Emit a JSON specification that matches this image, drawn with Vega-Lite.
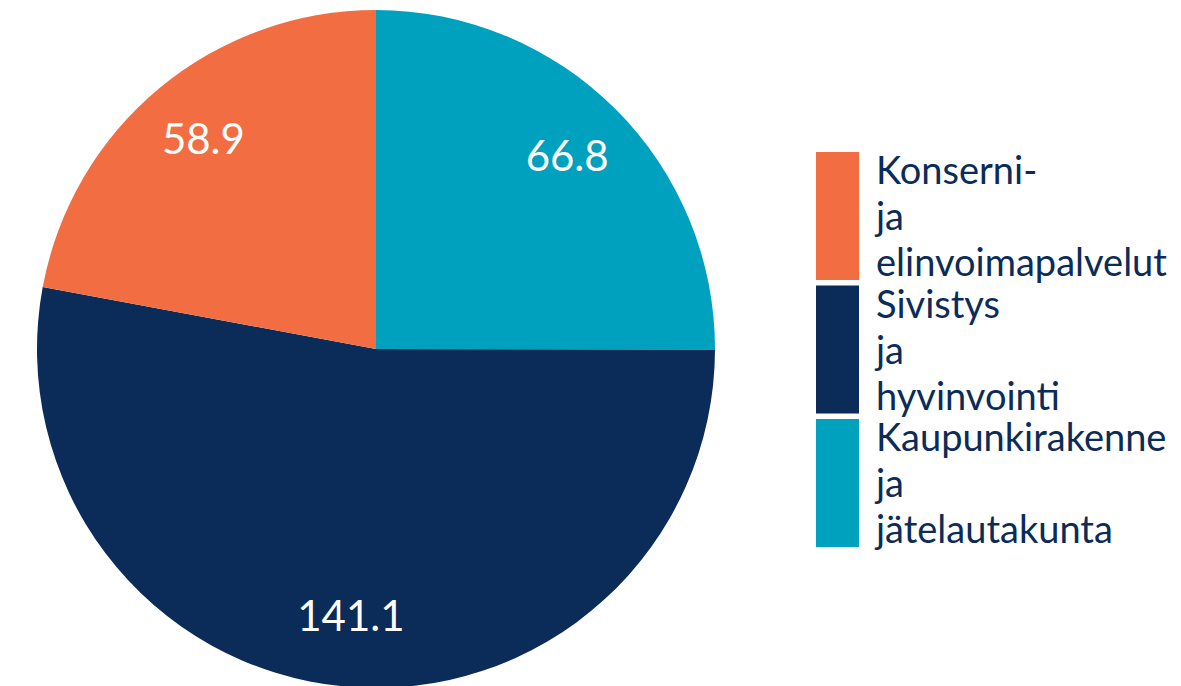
{
  "$schema": "https://vega.github.io/schema/vega-lite/v6.json",
  "width": 752,
  "height": 698,
  "padding": 0,
  "autosize": {"type": "pad"},
  "background": "white",
  "data": {
    "values": [
      {"name": "Kaupunkirakenne ja jätelautakunta", "value": 66.8, "order": 1},
      {"name": "Sivistys ja hyvinvointi", "value": 141.1, "order": 2},
      {"name": "Konserni- ja elinvoimapalvelut", "value": 58.9, "order": 3}
    ]
  },
  "encoding": {
    "theta": {"field": "value", "type": "quantitative", "stack": true},
    "order": {"field": "order", "type": "quantitative"},
    "color": {
      "field": "name",
      "type": "nominal",
      "scale": {
        "domain": ["Konserni- ja elinvoimapalvelut", "Sivistys ja hyvinvointi", "Kaupunkirakenne ja jätelautakunta"],
        "range": ["#F26E42", "#0B2B58", "#00A1BE"]
      },
      "legend": {
        "title": null,
        "orient": "none",
        "legendX": 816,
        "legendY": 152,
        "padding": 0,
        "symbolType": "M-1,-1H-0.328V1H-1Z",
        "symbolSize": 16384,
        "symbolStrokeWidth": 0,
        "symbolOpacity": 1,
        "labelOffset": -68,
        "labelFont": "Lato",
        "labelFontSize": 38,
        "labelColor": "#0B2B58",
        "labelLimit": 0,
        "rowPadding": 1.5,
        "labelExpr": "split(datum.label, ' ')",
        "encode": {
          "labels": {
            "update": {
              "lineHeight": {"value": 46},
              "dy": {"value": -43}
            }
          }
        }
      }
    }
  },
  "layer": [
    {"mark": {"type": "arc", "radius": 339}},
    {
      "mark": {"type": "text", "radius": 270, "font": "Lato", "fontSize": 42, "baseline": "middle", "align": "center"},
      "encoding": {
        "text": {"field": "value", "type": "quantitative", "format": ".1f"},
        "color": {"value": "white"}
      }
    }
  ],
  "config": {"view": {"stroke": null}}
}
